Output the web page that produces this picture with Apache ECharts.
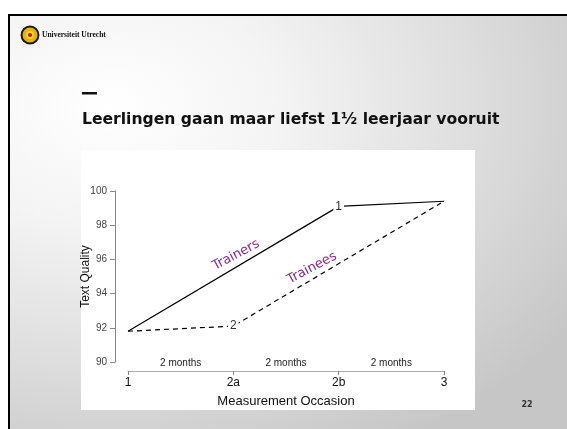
<!DOCTYPE html>
<html>
<head>
<meta charset="utf-8">
<script src="https://cdn.jsdelivr.net/npm/echarts@6/dist/echarts.min.js"></script>
<style>
  html, body { margin: 0; padding: 0; background: #fff; }
  #slide {
    position: absolute; left: 8px; top: 14px; width: 559px; height: 415px;
    border-top: 2px solid #000; border-left: 2px solid #000; box-sizing: border-box;
    background: radial-gradient(ellipse 100% 95% at 18% 22%, #ffffff 0%, #f4f4f4 30%, #dedede 65%, #c6c6c6 100%);
  }
  #main { position: absolute; left: 0; top: 0; width: 567px; height: 429px; }
</style>
</head>
<body>
<div id="slide"></div>
<div id="main"></div>
<script>
// measurement occasions on the x axis
const occasions = ['1', '2a', '2b', '3'];
const intervals = ['2 months', '2 months', '2 months'];
// text quality per group (null = not measured)
const trainers = [91.8, null, 99.1, 99.4];
const trainees = [91.8, 92.1, null, 99.4];
// numbers printed at the middle measurement of each group
const trainersMark = { index: 2, text: '1' };
const traineesMark = { index: 1, text: '2' };

const myChart = echarts.init(document.getElementById('main'));

function withMark(values, mark) {
  return values.map((v, i) => {
    if (i !== mark.index) return v;
    return {
      value: v,
      symbol: 'circle',
      symbolSize: 1,
      itemStyle: { color: 'rgba(0,0,0,0)' },
      label: {
        show: true, position: 'inside', formatter: mark.text,
        color: '#333', fontSize: 12, fontFamily: 'Liberation Sans',
        backgroundColor: '#fff', padding: [0, 2]
      }
    };
  });
}

const option = {
  animation: false,
  grid: { left: 128, right: 123, top: 191, bottom: 67 },
  xAxis: [
    {
      type: 'category',
      data: occasions,
      boundaryGap: false,
      offset: 9,
      axisLine: { lineStyle: { color: '#aaa' } },
      axisTick: { length: 4, lineStyle: { color: '#888' } },
      axisLabel: { color: '#111', fontSize: 12, fontFamily: 'Liberation Sans', margin: 6 },
      name: 'Measurement Occasion',
      nameLocation: 'middle',
      nameGap: 24,
      nameTextStyle: { color: '#111', fontSize: 13, fontFamily: 'Liberation Sans' },
      splitLine: { show: false }
    },
    {
      type: 'category',
      data: intervals,
      position: 'bottom',
      offset: 9,
      boundaryGap: true,
      axisLine: { show: false },
      axisTick: { show: false },
      axisLabel: { inside: true, margin: 3, color: '#222', fontSize: 10, fontFamily: 'Liberation Sans' },
      splitLine: { show: false }
    }
  ],
  yAxis: {
    type: 'value',
    min: 90,
    max: 100,
    interval: 2,
    offset: 13,
    axisLine: { show: true, lineStyle: { color: '#888' } },
    axisTick: { show: true, length: 5, lineStyle: { color: '#888' } },
    axisLabel: { color: '#444', fontSize: 10, fontFamily: 'Liberation Sans', margin: 8 },
    splitLine: { show: false },
    name: 'Text Quality',
    nameLocation: 'middle',
    nameGap: 23,
    nameMoveOverlap: false,
    nameTextStyle: { color: '#111', fontSize: 12, fontFamily: 'Liberation Sans' }
  },
  series: [
    {
      name: 'Trainers',
      type: 'line',
      data: withMark(trainers, trainersMark),
      connectNulls: true,
      symbol: 'none',
      lineStyle: { color: '#000', width: 1.2 },
      z: 3
    },
    {
      name: 'Trainees',
      type: 'line',
      data: withMark(trainees, traineesMark),
      connectNulls: true,
      symbol: 'none',
      lineStyle: { color: '#000', width: 1.2, type: [5, 4] },
      z: 3
    }
  ],
  graphic: [
    // white chart panel
    { type: 'rect', z: -10, shape: { x: 81, y: 150, width: 394, height: 260 }, style: { fill: '#fff' } },
    // header logo
    { type: 'circle', shape: { cx: 30, cy: 35, r: 8.5 }, style: { fill: '#e6b400', stroke: '#1a1a1a', lineWidth: 2 } },
    { type: 'circle', shape: { cx: 30, cy: 35, r: 4 }, style: { fill: '#f4d23a' } },
    { type: 'circle', shape: { cx: 30, cy: 35, r: 2 }, style: { fill: '#c01818' } },
    { type: 'text', x: 42, y: 35, style: { text: 'Universiteit Utrecht', fill: '#111', font: 'bold 7.5px "Liberation Serif"', textVerticalAlign: 'middle' } },
    // title dash + title
    { type: 'rect', shape: { x: 82, y: 92, width: 15, height: 2.5 }, style: { fill: '#111' } },
    { type: 'text', x: 82, y: 120, style: { text: 'Leerlingen gaan maar liefst 1½ leerjaar vooruit', fill: '#111', font: 'bold 15.6px "DejaVu Sans"', textVerticalAlign: 'middle' } },
    // group annotations
    { type: 'text', x: 236, y: 255, rotation: 28 * Math.PI / 180, style: { text: 'Trainers', fill: '#8b2a8b', font: '13px "DejaVu Sans"', textAlign: 'center', textVerticalAlign: 'middle' } },
    { type: 'text', x: 312, y: 268, rotation: 28 * Math.PI / 180, style: { text: 'Trainees', fill: '#8b2a8b', font: '13px "DejaVu Sans"', textAlign: 'center', textVerticalAlign: 'middle' } },
    // page number
    { type: 'text', x: 527, y: 405, style: { text: '22', fill: '#333', font: 'bold 8px "DejaVu Sans"', textAlign: 'center', textVerticalAlign: 'middle' } }
  ]
};

myChart.setOption(option);
</script>
</body>
</html>
